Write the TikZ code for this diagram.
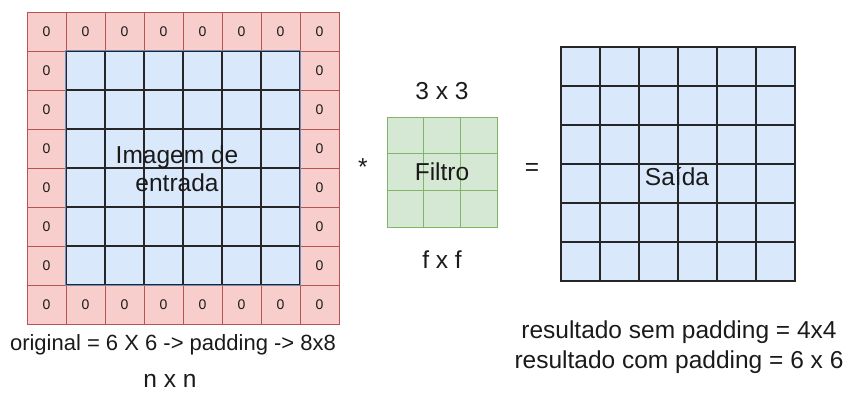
\documentclass[tikz,border=0pt]{standalone}
\usepackage{fontspec}
\setmainfont{Liberation Sans}
\definecolor{padfill}{HTML}{F8CECC}
\definecolor{padline}{HTML}{B85450}
\definecolor{infill}{HTML}{DAE8FC}
\definecolor{inline}{HTML}{6C8EBF}
\definecolor{filfill}{HTML}{D5E8D4}
\definecolor{filline}{HTML}{82B366}
\definecolor{ink}{HTML}{1A1A1A}
\begin{document}
\begin{tikzpicture}[x=1pt,y=-1pt,
  padcell/.style={draw=padline, fill=padfill, minimum size=39pt, inner sep=0pt,
    font=\fontsize{14}{16}\selectfont, text=ink},
  incell/.style={draw=black!85, line width=1.1pt, fill=infill, minimum size=39pt, inner sep=0pt},
  outcell/.style={draw=black!85, line width=1.1pt, fill=infill, minimum size=39pt, inner sep=0pt},
  filcell/.style={draw=filline, fill=filfill, minimum size=36.67pt, inner sep=0pt},
  biglabel/.style={font=\fontsize{24.5}{28}\selectfont, text=ink, align=center, inner sep=0pt},
  note/.style={font=\fontsize{24.5}{30}\selectfont, text=ink, align=center, inner sep=0pt}]
\useasboundingbox (0,0) rectangle (847,392);

% padded input: 8x8 cells, zeros on the border, blue 6x6 interior
\foreach \i in {0,...,7}{
  \foreach \j in {0,...,7}{
    \pgfmathtruncatemacro{\edge}{(\i==0)||(\i==7)||(\j==0)||(\j==7)}
    \ifnum\edge=1
      \node[padcell] (p-\i-\j) at ({46.5+39*\j},{31.5+39*\i}) {0};
    \else
      \node[incell] (p-\i-\j) at ({46.5+39*\j},{31.5+39*\i}) {};
    \fi
  }
}
\draw[inline] (p-1-1.north west) rectangle (p-6-6.south east);
\node[biglabel] (img) at (177,169) {Imagem de\\entrada};

% operator signs
\node[biglabel] (star) at (363,167) {*};
\node[biglabel] (eq) at (532,169) {=};

% 3x3 filter
\foreach \i in {0,1,2}{
  \foreach \j in {0,1,2}{
    \node[filcell] (f-\i-\j) at ({405.33+36.67*\j},{135.33+36.67*\i}) {};
  }
}
\node[biglabel] (filt) at (f-1-1) {Filtro};
\node[biglabel] (fsize) at (442,91) {3 x 3};
\node[biglabel] (fdim) at (442,260) {f x f};

% 6x6 output
\foreach \i in {0,...,5}{
  \foreach \j in {0,...,5}{
    \node[outcell] (o-\i-\j) at ({580.5+39*\j},{66.5+39*\i}) {};
  }
}
\node[biglabel] (out) at (677,177) {Saída};

% captions
\node[note, font=\fontsize{22}{26}\selectfont] (orig) at (173,345) {original = 6 X 6 -> padding -> 8x8};
\node[note] (nn) at (170,381) {n x n};
\node[note] (res) at (679,347) {resultado sem padding = 4x4\\resultado com padding = 6 x 6};
\end{tikzpicture}
\end{document}
